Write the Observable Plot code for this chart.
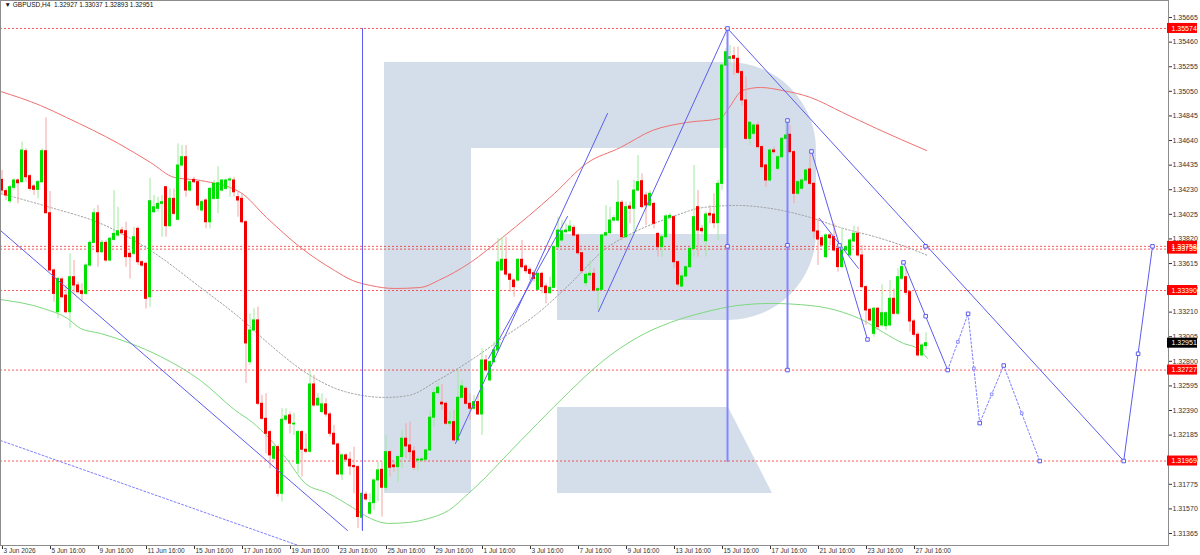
<!DOCTYPE html>
<html><head><meta charset="utf-8">
<script src="https://cdn.jsdelivr.net/npm/d3@7"></script>
<script src="https://cdn.jsdelivr.net/npm/@observablehq/plot@0.6"></script>
<style>body{margin:0;background:#fff;overflow:hidden}</style>
</head><body><div id="chart"></div>
<script>
const symbol = "GBPUSD", timeframe = "H4";
const opens = [1.34312,1.34218,1.34134,1.34246,1.34307,1.34293,1.34551,1.34343,1.34257,1.34229,
1.34293,1.34551,1.34034,1.33557,1.33209,1.33482,1.33348,1.33209,1.33501,1.33432,
1.33384,1.33362,1.33598,1.33787,1.34034,1.33709,1.33787,1.33640,1.33812,1.33848,
1.33890,1.33884,1.33696,1.33696,1.33904,1.33626,1.33612,1.33334,1.34043,1.34071,
1.34112,1.34251,1.33926,1.34154,1.33979,1.34432,1.34501,1.34223,1.34312,1.34293,
1.34057,1.34140,1.33959,1.34154,1.34154,1.34223,1.34237,1.34307,1.34307,1.34168,
1.34154,1.33959,1.32793,1.33057,1.33141,1.32446,1.32321,1.32210,1.31988,1.32085,
1.31696,1.32313,1.32349,1.32274,1.31946,1.32210,1.32063,1.32046,1.32607,1.32432,
1.32377,1.32441,1.32357,1.32196,1.32107,1.31857,1.32016,1.31980,1.31927,1.31918,
1.31496,1.31688,1.31530,1.31618,1.31807,1.31896,1.31746,1.32043,1.31932,1.31918,
1.32002,1.32155,1.32099,1.32049,1.31974,1.31974,1.31980,1.32057,1.32330,1.32535,
1.32455,1.32446,1.32280,1.32293,1.32141,1.32496,1.32571,1.32446,1.32405,1.32460,
1.32357,1.32807,1.32641,1.32793,1.32890,1.33557,1.33646,1.33523,1.33473,1.33473,
1.33646,1.33590,1.33562,1.33534,1.33396,1.33529,1.33423,1.33368,1.33412,1.33751,
1.33807,1.33876,1.33884,1.33912,1.33848,1.33701,1.33451,1.33515,1.33529,1.33390,
1.33396,1.33848,1.33868,1.33973,1.33973,1.34121,1.33834,1.34090,1.34071,1.34223,
1.34301,1.34182,1.34098,1.34112,1.33862,1.33751,1.33834,1.33996,1.34001,1.33626,
1.33423,1.33507,1.33584,1.33737,1.34085,1.33904,1.33801,1.34029,1.34023,1.33951,
1.34279,1.35265,1.35321,1.35343,1.35321,1.35210,1.34974,1.34654,1.34696,1.34765,
1.34585,1.34432,1.34307,1.34557,1.34404,1.34501,1.34654,1.34688,1.34543,1.34196,
1.34238,1.34307,1.34399,1.34279,1.33882,1.33826,1.33668,1.33849,1.33835,1.33738,
1.33585,1.33724,1.33682,1.33799,1.33863,1.33682,1.33418,1.33229,1.33029,1.33238,
1.33099,1.33093,1.33099,1.33321,1.33196,1.33488,1.33501,1.33376,1.33132,1.33021,
1.32849,1.32927];
const highs = [1.34390,1.34237,1.34265,1.34321,1.34321,1.34626,1.34571,1.34357,1.34273,1.34307,
1.34571,1.34829,1.34215,1.33571,1.33501,1.33501,1.33432,1.33696,1.33640,1.33459,
1.33446,1.33612,1.33807,1.34071,1.34098,1.33807,1.33807,1.33834,1.34223,1.34084,
1.33918,1.33959,1.33723,1.33918,1.33918,1.33640,1.33626,1.34326,1.34182,1.34168,
1.34182,1.34257,1.34237,1.34237,1.34612,1.34598,1.34598,1.34307,1.34334,1.34307,
1.34140,1.34154,1.34251,1.34307,1.34423,1.34312,1.34318,1.34334,1.34334,1.34209,
1.34196,1.33973,1.33196,1.33238,1.33252,1.32516,1.32530,1.32224,1.32099,1.32099,
1.32405,1.32405,1.32377,1.32368,1.32224,1.32224,1.32196,1.32724,1.32682,1.32530,
1.32530,1.32488,1.32377,1.32266,1.32118,1.32030,1.32030,1.32043,1.32085,1.31932,
1.31710,1.31710,1.31696,1.31821,1.31960,1.31960,1.32182,1.32057,1.31960,1.32016,
1.32224,1.32280,1.32293,1.32085,1.32002,1.32002,1.32071,1.32391,1.32571,1.32618,
1.32607,1.32460,1.32377,1.32391,1.32724,1.32641,1.32585,1.32530,1.32516,1.32516,
1.32905,1.32849,1.32807,1.32960,1.33824,1.33834,1.33834,1.33534,1.33487,1.33654,
1.33807,1.33607,1.33584,1.33557,1.33543,1.33543,1.33446,1.33501,1.33765,1.34001,
1.33973,1.33946,1.33973,1.33932,1.33862,1.33709,1.33543,1.33640,1.33571,1.33418,
1.33862,1.34098,1.34084,1.34015,1.34307,1.34140,1.34126,1.34126,1.34307,1.34515,
1.34362,1.34210,1.34223,1.34126,1.33876,1.33848,1.34023,1.34034,1.34015,1.33640,
1.33529,1.33598,1.33751,1.34432,1.34223,1.33932,1.34043,1.34098,1.34196,1.34307,
1.35279,1.35404,1.35432,1.35418,1.35418,1.35224,1.35168,1.34799,1.34779,1.34793,
1.34599,1.34446,1.34571,1.34585,1.34515,1.34668,1.34799,1.34765,1.34557,1.34307,
1.34321,1.34404,1.34543,1.34293,1.33988,1.33849,1.33863,1.33863,1.33946,1.33765,
1.33904,1.33765,1.33821,1.33926,1.33918,1.33765,1.33432,1.33243,1.33251,1.33251,
1.33438,1.33215,1.33474,1.33404,1.33571,1.33626,1.33585,1.33390,1.33149,1.33043,
1.32946,1.33037];
const lows = [1.34182,1.34140,1.34112,1.34223,1.34112,1.34284,1.34293,1.34218,1.34182,1.34154,
1.34279,1.34029,1.33543,1.33293,1.33154,1.33321,1.33196,1.33071,1.33362,1.33362,
1.33307,1.33348,1.33584,1.33779,1.33584,1.33696,1.33626,1.33626,1.33801,1.33834,
1.33848,1.33584,1.33487,1.33682,1.33598,1.33584,1.33237,1.33251,1.34029,1.34043,
1.33834,1.33834,1.33918,1.34015,1.33973,1.34418,1.34168,1.34209,1.34279,1.34057,
1.34043,1.33904,1.33904,1.34140,1.34029,1.34209,1.34223,1.34168,1.34168,1.34001,
1.33946,1.32615,1.32766,1.33043,1.32432,1.32307,1.32030,1.31905,1.31974,1.31669,
1.31627,1.32293,1.32196,1.32182,1.31863,1.31835,1.32030,1.32035,1.32418,1.32424,
1.32363,1.32335,1.32168,1.32099,1.31849,1.31807,1.31960,1.31849,1.31696,1.31405,
1.31391,1.31635,1.31516,1.31557,1.31627,1.31502,1.31718,1.31835,1.31877,1.31793,
1.31905,1.31988,1.31960,1.31891,1.31885,1.31960,1.31960,1.32052,1.32252,1.32516,
1.32391,1.32266,1.32252,1.32127,1.32127,1.32488,1.32432,1.32307,1.32391,1.32349,
1.32182,1.32710,1.32627,1.32780,1.32874,1.33551,1.33501,1.33376,1.33334,1.33459,
1.33571,1.33529,1.33473,1.33459,1.33390,1.33362,1.33279,1.33357,1.33404,1.33737,
1.33793,1.33862,1.33876,1.33834,1.33682,1.33529,1.33418,1.33473,1.33376,1.33223,
1.33390,1.33834,1.33857,1.33959,1.33959,1.33807,1.33821,1.33946,1.33876,1.34210,
1.34071,1.33932,1.34085,1.33904,1.33668,1.33668,1.33821,1.33973,1.33571,1.33418,
1.33412,1.33496,1.33571,1.33668,1.33668,1.33862,1.33668,1.33946,1.33904,1.33807,
1.34224,1.35251,1.35265,1.35182,1.35188,1.34926,1.34640,1.34599,1.34682,1.34571,
1.34404,1.34251,1.34293,1.34529,1.34390,1.34488,1.34640,1.34529,1.34113,1.34182,
1.34224,1.34293,1.34265,1.33821,1.33599,1.33751,1.33654,1.33765,1.33710,1.33543,
1.33571,1.33710,1.33668,1.33788,1.33668,1.33404,1.33099,1.33126,1.33001,1.33057,
1.33085,1.33057,1.33085,1.33182,1.33182,1.33474,1.33349,1.33043,1.33001,1.32835,
1.32835,1.32893];
const closes = [1.34223,1.34182,1.34251,1.34307,1.34284,1.34557,1.34334,1.34237,1.34229,1.34293,
1.34551,1.34034,1.33557,1.33362,1.33487,1.33334,1.33209,1.33501,1.33432,1.33376,
1.33362,1.33598,1.33787,1.34034,1.33709,1.33787,1.33640,1.33821,1.33862,1.33884,
1.33868,1.33668,1.33668,1.33834,1.33626,1.33598,1.33321,1.34134,1.34084,1.34112,
1.34126,1.33926,1.34154,1.34029,1.34432,1.34501,1.34223,1.34293,1.34293,1.34098,
1.34126,1.33959,1.34237,1.34279,1.34284,1.34307,1.34307,1.34315,1.34209,1.34140,
1.33959,1.32949,1.33057,1.33141,1.32446,1.32321,1.32196,1.32016,1.32085,1.31696,
1.32313,1.32341,1.32280,1.32280,1.32210,1.32063,1.32046,1.32607,1.32432,1.32488,
1.32441,1.32357,1.32196,1.32107,1.31857,1.32016,1.31980,1.31924,1.31918,1.31502,
1.31696,1.31649,1.31618,1.31807,1.31891,1.31746,1.32043,1.31913,1.31918,1.32002,
1.32155,1.32091,1.32043,1.31913,1.31980,1.31982,1.32057,1.32330,1.32535,1.32580,
1.32441,1.32280,1.32293,1.32141,1.32496,1.32591,1.32446,1.32405,1.32460,1.32357,
1.32807,1.32724,1.32793,1.32891,1.33624,1.33646,1.33523,1.33479,1.33418,1.33646,
1.33584,1.33551,1.33529,1.33487,1.33529,1.33418,1.33368,1.33412,1.33751,1.33890,
1.33884,1.33890,1.33923,1.33848,1.33701,1.33551,1.33521,1.33529,1.33390,1.33401,
1.33848,1.33868,1.33973,1.33993,1.34121,1.33834,1.34085,1.34071,1.34223,1.34293,
1.34085,1.34098,1.34196,1.33946,1.33751,1.33834,1.34007,1.34012,1.33626,1.33440,
1.33507,1.33584,1.33737,1.34001,1.33890,1.33884,1.34023,1.34015,1.33951,1.34279,
1.35265,1.35376,1.35335,1.35321,1.35204,1.34974,1.34654,1.34788,1.34765,1.34585,
1.34418,1.34307,1.34557,1.34543,1.34501,1.34654,1.34682,1.34543,1.34196,1.34293,
1.34307,1.34390,1.34279,1.33882,1.33815,1.33765,1.33849,1.33826,1.33724,1.33585,
1.33724,1.33751,1.33807,1.33863,1.33682,1.33418,1.33224,1.33140,1.33238,1.33085,
1.33201,1.33201,1.33321,1.33196,1.33501,1.33585,1.33371,1.33132,1.33021,1.32849,
1.32932,1.32951];

const timeLabels = ["3 Jun 2026","5 Jun 16:00","9 Jun 16:00","11 Jun 16:00","15 Jun 16:00","17 Jun 16:00","19 Jun 16:00","23 Jun 16:00","25 Jun 16:00","29 Jun 16:00","1 Jul 16:00","3 Jul 16:00","7 Jul 16:00","9 Jul 16:00","13 Jul 16:00","15 Jul 16:00","17 Jul 16:00","21 Jul 16:00","23 Jul 16:00","27 Jul 16:00"];
const barsPerLabel = 12;
const priceTicks = [1.35665,1.35460,1.35255,1.35050,1.34845,1.34640,1.34435,1.34230,1.34025,1.33820,1.33615,1.33415,1.33210,1.33005,1.32800,1.32595,1.32390,1.32185,1.31980,1.31775,1.31570,1.31365];
const levels = [1.35574, 1.33735, 1.33758, 1.33390, 1.32727, 1.31969];
const bidPrice = 1.32951;

// moving averages: [bar index, price]
const maRed = [[-0.5,1.35049],[9.5,1.34932],[16,1.34832],[29,1.34615],[37,1.34457],[43,1.34332],[49.5,1.34307],[59.5,1.34207],[66,1.33999],[74.5,1.33749],[83,1.33557],[87.5,1.33474],[92,1.33432],[98,1.33407],[104.5,1.33415],[109,1.33474],[117,1.33624],[125,1.33832],[138,1.34199],[146,1.34449],[154.5,1.34582],[162.5,1.34724],[171,1.34790],[179.5,1.34824],[181.5,1.34907],[185,1.35057],[189.5,1.35082],[195,1.35057],[202,1.34999],[210,1.34874],[218.5,1.34740],[231,1.34557]];
const maGreen = [[-0.5,1.33315],[10.25,1.33240],[16.25,1.33157],[19.5,1.33074],[24.5,1.33032],[32,1.32949],[39.5,1.32840],[49.5,1.32640],[58.25,1.32390],[62.5,1.32290],[66.5,1.32165],[70.75,1.31999],[75.75,1.31782],[81.5,1.31699],[87.5,1.31582],[92,1.31490],[96.5,1.31449],[101.5,1.31457],[106.5,1.31490],[111.5,1.31557],[116.5,1.31699],[120.75,1.31832],[125.25,1.31990],[133.75,1.32282],[142,1.32557],[150.25,1.32807],[158.75,1.32999],[167,1.33124],[175.25,1.33207],[183.75,1.33265],[192,1.33282],[202,1.33265],[210.25,1.33207],[215.25,1.33140],[220.25,1.33040],[225.25,1.32949],[228.75,1.32907],[231.25,1.32824]];
const maGrey = [[-0.5,1.34199],[12,1.34082],[24.5,1.33949],[37,1.33724],[49.5,1.33415],[59.5,1.33157],[66.5,1.32949],[75,1.32724],[83.25,1.32574],[90,1.32515],[95.75,1.32499],[101.5,1.32515],[108.75,1.32640],[117,1.32807],[125.25,1.32999],[133.75,1.33199],[142,1.33449],[150.25,1.33724],[158.75,1.33890],[167,1.33999],[175.25,1.34082],[183.75,1.34099],[192,1.34074],[200.25,1.34015],[210.25,1.33907],[218.75,1.33832],[227,1.33740],[231.25,1.33682]];

// analysis drawings: [bar index, price]
const solidLines = {
  L1: [[-0.5,1.33890],[86.25,1.31390]],
  V1: [[90,1.35574],[90,1.31390]],
  L4: [[113.25,1.32115],[151.25,1.34865]],
  L5: [[121.5,1.32824],[141.25,1.34007]],
  L6: [[149,1.33215],[181.25,1.35574]],
  L7: [[181.25,1.35574],[280.3,1.31969]],
  L8: [[280.3,1.31969],[287.5,1.33758]],
  L9: [[202.25,1.34549],[216.25,1.32982]],
  L10: [[204.25,1.33990],[214,1.33574]],
  L11: [[225.25,1.33624],[236.3,1.32727]]
};
const verticalLines = {
  V2: [[181.25,1.35574],[181.25,1.31969]],
  V3: [[196.25,1.34807],[196.25,1.32727]]
};
const dottedLines = {
  L2: [[-0.5,1.32140],[86,1.31124]],
  P: [[236.3,1.32727],[241.4,1.33196],[244.3,1.32285],[250.3,1.32765],[259.3,1.31969]]
};
const anchorPoints = [[181.25,1.35574],[230.75,1.33758],[280.3,1.31969],[283.9,1.32863],[287.5,1.33758],[181.25,1.33758],[196.25,1.34807],[196.25,1.33767],[196.25,1.32727],[202.25,1.34549],[209.25,1.33766],[216.25,1.32982],[225.25,1.33624],[230.8,1.33176],[236.3,1.32727],[241.4,1.33196],[244.3,1.32285],[250.3,1.32765],[259.3,1.31969]];
const midPoints = [[238.85,1.32962],[242.85,1.32741],[247.3,1.32525],[254.8,1.32367]];

// watermark logo outline in bar/price units
const logoX = [95.5, 117.25, 138.75, 181.5, 192.5, 203.5];
const logoP = [1.35290, 1.34574, 1.33857, 1.33140, 1.32415, 1.31699];

const xDomain = [-0.5, 291.5];
const yDomain = [1.31265, 1.35807];

const candles = opens.map((o, i) => ({i, open: o, high: highs[i], low: lows[i], close: closes[i], up: closes[i] >= o}));
const toRows = obj => Object.entries(obj).flatMap(([id, pts]) => pts.map(([i, p]) => ({id, i, p})));
const labelRows = timeLabels.map((label, k) => ({i: k * barsPerLabel, label}));
const last = candles[candles.length - 1];
const header = `\u25BC ${symbol},${timeframe}  ${last.open.toFixed(5)} ${last.high.toFixed(5)} ${last.low.toFixed(5)} ${last.close.toFixed(5)}`;

const FONT = "Liberation Sans, Arial, sans-serif";
const BLUE = "#5c5cf0";
const levelLabels = levels.map(v => ({v, fill: "#ff0000"})).concat([{v: bidPrice, fill: "#000000"}]);

const plot = Plot.plot({
  width: 1200, height: 555,
  marginLeft: 0, marginRight: 32, marginTop: 0, marginBottom: 10,
  style: {fontFamily: FONT, fontSize: "7px", color: "#333", background: "#fff"},
  x: {type: "linear", domain: xDomain, axis: "bottom", ticks: labelRows.map(d => d.i), tickFormat: () => "", tickSize: 4, label: null},
  y: {type: "linear", domain: yDomain, axis: "right", ticks: priceTicks, tickFormat: d => d.toFixed(5), tickSize: 3, tickPadding: 1, label: null},
  color: {type: "identity"},
  marks: [
    Plot.ruleY(levels, {y: d => d, stroke: "#ff2a2a", strokeOpacity: 0.8, strokeWidth: 1, strokeDasharray: "2,2"}),
    Plot.line(maGrey, {x: d => d[0], y: d => d[1], stroke: "#a0a0a0", strokeWidth: 1, strokeDasharray: "1.5,2", curve: "monotone-x"}),
    Plot.line(maRed, {x: d => d[0], y: d => d[1], stroke: "#f07070", strokeWidth: 1, curve: "monotone-x"}),
    Plot.line(maGreen, {x: d => d[0], y: d => d[1], stroke: "#7ed87e", strokeWidth: 1, curve: "monotone-x"}),
    Plot.ruleX(candles, {x: "i", y1: "low", y2: "high", dx: -0.5, stroke: d => d.up ? "#9eea9e" : "#f4a4a4", strokeWidth: 1}),
    Plot.rect(candles, {x1: d => d.i - 0.5, x2: d => d.i + 0.25, y1: "open", y2: "close", insetTop: -0.5, insetBottom: -0.5, fill: d => d.up ? "#00e000" : "#f00000"}),
    Plot.line(toRows(verticalLines), {x: "i", y: "p", z: "id", stroke: "#8585ff", strokeWidth: 2}),
    Plot.line(toRows(solidLines), {x: "i", y: "p", z: "id", stroke: BLUE, strokeWidth: 1, clip: true}),
    Plot.line(toRows(dottedLines), {x: "i", y: "p", z: "id", stroke: "#7d7dff", strokeWidth: 1, strokeDasharray: "2,2", clip: true}),
    Plot.dot(anchorPoints, {x: d => d[0], y: d => d[1], symbol: "square", r: 2, stroke: BLUE, fill: "white", strokeWidth: 1}),
    Plot.dot(midPoints, {x: d => d[0], y: d => d[1], symbol: "square", r: 1.5, stroke: "#8a8aff", fill: "white", strokeWidth: 1}),
    Plot.frame({stroke: "#8c8c8c"}),
    Plot.rect(levelLabels, {x1: () => xDomain[1], x2: () => xDomain[1], y1: "v", y2: "v", insetLeft: -1, insetRight: -29, insetTop: -5, insetBottom: -5, fill: "fill"}),
    Plot.text(levelLabels, {x: () => xDomain[1], y: "v", text: d => d.v.toFixed(5), dx: 3, textAnchor: "start", fill: "white", fontSize: 7}),
    Plot.text(labelRows, {x: "i", y: () => yDomain[0], text: "label", textAnchor: "start", dx: 1, dy: 5, fill: "#333", fontSize: 6.5}),
    Plot.text([header], {frameAnchor: "top-left", text: d => d, dx: 4, dy: 2, lineAnchor: "top", textAnchor: "start", fill: "#111", fontSize: 6.5})
  ]
});

// watermark logo under all marks
const xs = plot.scale("x"), ys = plot.scale("y");
const X = logoX.map(v => xs.apply(v)), Y = logoP.map(v => ys.apply(v));
const r = X[5] - X[3];
const d = `M${X[0]},${Y[0]}H${X[3]}A${r},${r} 0 0 1 ${X[5]},${Y[0] + r}V${Y[3] - r}A${r},${r} 0 0 1 ${X[3]},${Y[3]}H${X[2]}V${Y[2]}H${X[3]}V${Y[1]}H${X[1]}V${Y[5]}H${X[0]}Z` +
          `M${X[2]},${Y[4]}H${X[3]}L${X[4]},${Y[5]}H${X[2]}Z`;
const logo = document.createElementNS("http://www.w3.org/2000/svg", "path");
logo.setAttribute("d", d);
logo.setAttribute("fill", "#d3deea");
plot.insertBefore(logo, plot.querySelector("g"));

document.getElementById("chart").appendChild(plot);
</script>
</body></html>
